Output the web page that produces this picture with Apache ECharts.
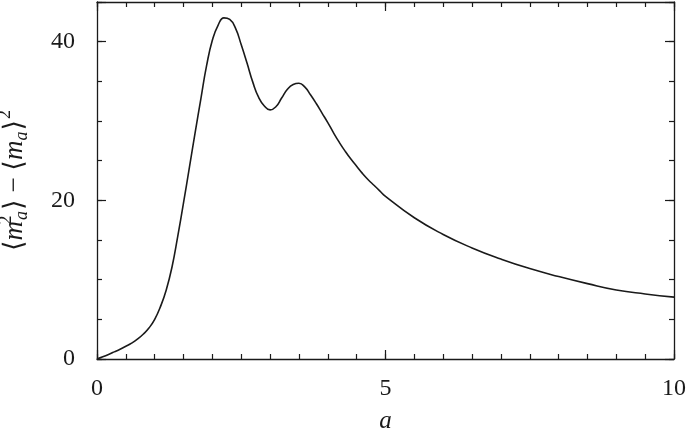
<!DOCTYPE html>
<html>
<head>
<meta charset="utf-8">
<script src="https://cdn.jsdelivr.net/npm/echarts@6/dist/echarts.min.js"></script>
<style>html,body{margin:0;padding:0;background:#fff}#c{width:688px;height:436px}</style>
</head>
<body>
<div id="c"></div>
<script>
// Data
const aValues = [0, 0.1, 0.2, 0.3, 0.4, 0.5, 0.6, 0.7, 0.8, 0.9,
  1.0, 1.1, 1.2, 1.3, 1.4, 1.5, 1.6, 1.7, 1.8, 1.9,
  2.0, 2.1, 2.2, 2.3, 2.4, 2.5, 2.6, 2.7, 2.8, 2.9,
  3.0, 3.1, 3.2, 3.3, 3.4, 3.5, 3.6, 3.7, 3.8, 3.9,
  4.0, 4.1, 4.2, 4.3, 4.4, 4.5, 4.6, 4.7, 4.8, 4.9,
  5.0, 5.5, 6.0, 6.5, 7.0, 7.5, 8.0, 8.5, 9.0, 9.5, 10.0];
const varValues = [0, 0.28, 0.58, 0.9, 1.23, 1.6, 2.0, 2.5, 3.12, 3.9,
  5.0, 6.6, 8.7, 11.6, 15.5, 19.7, 24.1, 28.5, 32.8, 37.0,
  40.2, 42.1, 43.0, 42.8, 41.7, 39.6, 37.3, 34.9, 33.0, 31.9,
  31.4, 31.8, 32.9, 34.0, 34.6, 34.75, 34.3, 33.3, 32.2, 31.0,
  29.8, 28.5, 27.3, 26.2, 25.2, 24.3, 23.4, 22.6, 21.9, 21.2,
  20.5, 17.8, 15.7, 14.0, 12.6, 11.4, 10.4, 9.5, 8.7, 8.2, 7.8];
const xTicks = [0, 5, 10];
const yTicks = [0, 20, 40];
const xMinorStep = 0.5;
const yMinorStep = 5;
const yMax = 45;

const seriesData = aValues.map((a, i) => [a, varValues[i]]);
const serif = "'Liberation Serif','DejaVu Serif',serif";
const ink = '#1a1a1a';

function axis(opts) {
  return {
    type: 'value',
    min: opts.min, max: opts.max, interval: opts.interval, position: opts.position,
    axisLine: { show: !!opts.line, onZero: false, lineStyle: { color: ink, width: 1.3 } },
    axisTick: { show: true, inside: true, length: opts.tickLen, lineStyle: { color: ink, width: 1.2 } },
    axisLabel: opts.label || { show: false },
    splitLine: { show: false },
    minorTick: { show: false },
    name: opts.name, nameLocation: opts.nameLocation, nameGap: opts.nameGap,
    nameRotate: opts.nameRotate, nameTextStyle: opts.nameTextStyle
  };
}

const xMin = xTicks[0], xMax = xTicks[xTicks.length - 1];
const xMajor = xTicks[1] - xTicks[0];
const yMajor = yTicks[1] - yTicks[0];

const chart = echarts.init(document.getElementById('c'), null, { renderer: 'canvas' });
chart.setOption({
  animation: false,
  backgroundColor: '#fff',
  grid: { left: 97, right: 14, top: 2, bottom: 77, containLabel: false, outerBoundsMode: 'none' },
  xAxis: [
    axis({ min: xMin, max: xMax, interval: xMajor, position: 'bottom', line: true, tickLen: 9,
      label: { show: true, margin: 18, color: ink, fontFamily: serif, fontSize: 24 },
      name: 'a', nameLocation: 'middle', nameGap: 50,
      nameTextStyle: { color: ink, fontFamily: serif, fontSize: 25, fontStyle: 'italic' } }),
    axis({ min: xMin, max: xMax, interval: xMinorStep, position: 'bottom', tickLen: 5 }),
    axis({ min: xMin, max: xMax, interval: xMajor, position: 'top', line: true, tickLen: 9 }),
    axis({ min: xMin, max: xMax, interval: xMinorStep, position: 'top', tickLen: 5 })
  ],
  yAxis: [
    axis({ min: 0, max: yMax, interval: yMajor, position: 'left', line: true, tickLen: 9,
      label: { show: true, margin: 22, color: ink, fontFamily: serif, fontSize: 24,
        formatter: v => (yTicks.indexOf(v) >= 0 ? String(v) : '') },
      name: '{t|⟨}{i|m}{sp|2}{sb|a}{t|⟩ − ⟨}{i|m}{sb|a}{t|⟩}{sq|2}',
      nameLocation: 'middle', nameGap: 62, nameRotate: 90,
      nameTextStyle: {
        color: ink, fontFamily: serif, fontSize: 27,
        rich: {
          t: { fontFamily: serif, fontSize: 27, color: ink, lineHeight: 40, verticalAlign: 'middle' },
          i: { fontFamily: serif, fontSize: 27, fontStyle: 'italic', color: ink, lineHeight: 40, verticalAlign: 'middle' },
          sp: { fontFamily: serif, fontSize: 18, color: ink, lineHeight: 40, verticalAlign: 'top', width: 0, padding: [2, 0, 0, 1] },
          sb: { fontFamily: serif, fontSize: 18, fontStyle: 'italic', color: ink, lineHeight: 40, verticalAlign: 'bottom', padding: [0, 1, 4, 0] },
          sq: { fontFamily: serif, fontSize: 18, color: ink, lineHeight: 40, verticalAlign: 'top', padding: [1, 0, 0, 1] }
        }
      } }),
    axis({ min: 0, max: yMax, interval: yMinorStep, position: 'left', tickLen: 5 }),
    axis({ min: 0, max: yMax, interval: yMajor, position: 'right', line: true, tickLen: 9 }),
    axis({ min: 0, max: yMax, interval: yMinorStep, position: 'right', tickLen: 5 })
  ],
  series: [{
    type: 'line',
    data: seriesData,
    smooth: 0.5,
    showSymbol: false,
    symbol: 'none',
    lineStyle: { color: ink, width: 1.6 },
    xAxisIndex: 0, yAxisIndex: 0
  }]
});
</script>
</body>
</html>
